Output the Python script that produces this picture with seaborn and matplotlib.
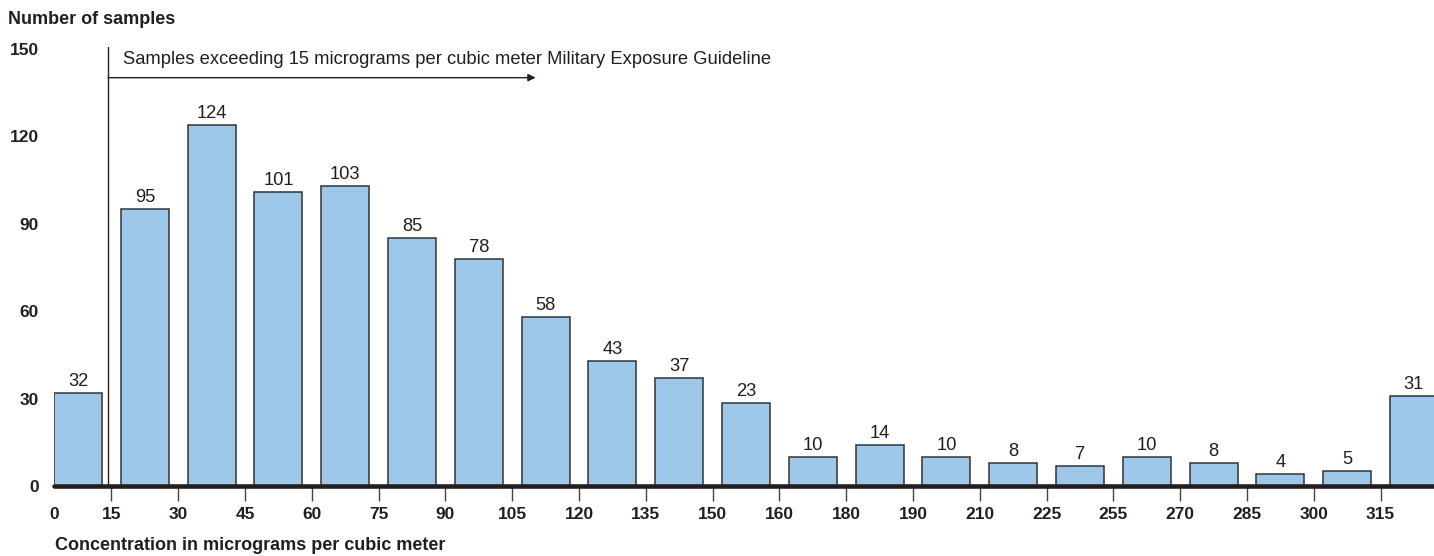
import matplotlib
matplotlib.use("Agg")
import matplotlib.pyplot as plt
import seaborn as sns
import pandas as pd

# ---- data ----
bin_labels = ["0", "15", "30", "45", "60", "75", "90", "105", "120", "135", "150",
              "160", "180", "190", "210", "225", "255", "270", "285", "300", "315"]
bar_heights = [32, 95, 124, 101, 103, 85, 78, 58, 43, 37, 28.5,
               10, 14, 10, 8, 7, 10, 8, 4, 5, 31]
value_labels = ["32", "95", "124", "101", "103", "85", "78", "58", "43", "37", "23",
                "10", "14", "10", "8", "7", "10", "8", "4", "5", "31"]
y_ticks = [0, 30, 60, 90, 120, 150]

sns.set_theme(style="white")
plt.rcParams["font.family"] = ["Liberation Sans", "DejaVu Sans"]

fig = plt.figure(figsize=(14.34, 5.56), dpi=100)
ax = fig.add_axes([54 / 1434, 70 / 556, 1 - 54 / 1434, 466 / 556])

df = pd.DataFrame({"pos": list(range(len(bar_heights))), "count": bar_heights})
sns.barplot(data=df, x="pos", y="count", ax=ax, color="#9dc8ea", saturation=1,
            width=0.72, edgecolor="#333333", linewidth=1.1)

for i, (h, lab) in enumerate(zip(bar_heights, value_labels)):
    ax.annotate(lab, xy=(i, h), xytext=(0, 5), textcoords="offset points",
                ha="center", va="baseline", fontsize=13.2, color="#231f20")

ax.set_xlim(-0.36, 20.3)
ax.set_ylim(0, 160)

# baseline
ax.axhline(0, color="#231f20", lw=3.3, clip_on=False, zorder=5)

# x ticks at bin edges
xt = [-0.36] + [i - 0.5 for i in range(1, len(bin_labels))]
ax.set_xticks(xt)
ax.set_xticklabels(bin_labels, fontweight="bold", fontsize=12.5, color="#231f20")
ax.tick_params(axis="x", direction="out", length=11, width=1.0, color="#444444",
               pad=4, bottom=True)
ax.xaxis.get_major_ticks()[0].tick1line.set_visible(False)

ax.set_yticks(y_ticks)
ax.set_yticklabels([str(v) for v in y_ticks], fontweight="bold", fontsize=12.5,
                   color="#231f20")
ax.tick_params(axis="y", length=0, pad=11)

ax.set_xlabel("")
ax.set_ylabel("")
for s in ax.spines.values():
    s.set_visible(False)
ax.grid(False)

# guideline marker and arrow
ax.plot([0.45, 0.45], [0, 150.7], color="#231f20", lw=1.0, clip_on=False, zorder=4)
ax.annotate("", xy=(6.85, 140.2), xytext=(0.45, 140.2),
            arrowprops=dict(arrowstyle="-|>", lw=1.0, color="#231f20",
                            mutation_scale=11, shrinkA=0, shrinkB=0))
ax.text(0.68, 144.9, "Samples exceeding 15 micrograms per cubic meter Military Exposure Guideline",
        fontsize=13.2, va="baseline", ha="left", color="#231f20")

fig.text(8 / 1434, 1 - 19 / 556, "Number of samples", fontweight="bold", fontsize=13,
         va="center", ha="left", color="#231f20")
fig.text(55 / 1434, 1 - 545 / 556, "Concentration in micrograms per cubic meter",
         fontweight="bold", fontsize=13, va="center", ha="left", color="#231f20")

fig.savefig("out.png", dpi=100)
